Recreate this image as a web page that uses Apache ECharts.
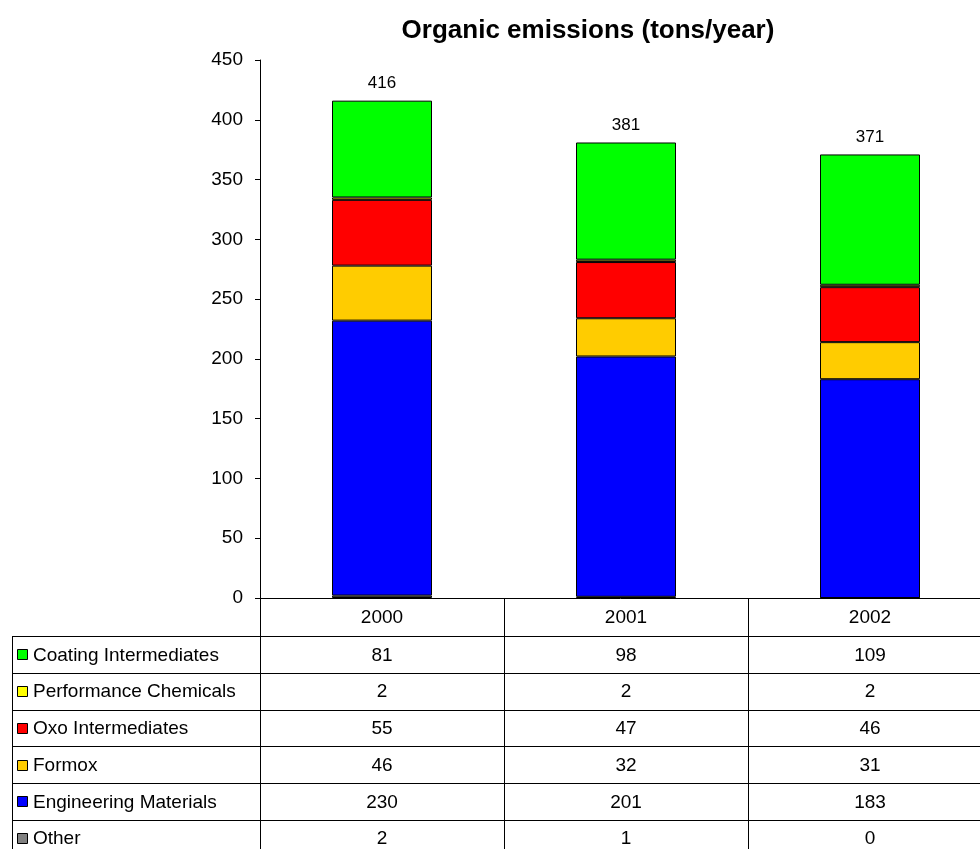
<!DOCTYPE html>
<html>
<head>
<meta charset="utf-8">
<script src="https://cdn.jsdelivr.net/npm/echarts@6/dist/echarts.min.js"></script>
<style>
  html, body { margin: 0; padding: 0; background: #fff; }
  #main { width: 980px; height: 849px; }
</style>
</head>
<body>
<div id="main"></div>
<script>
var years = ['2000', '2001', '2002'];
var other = [2, 1, 0];
var engineering = [230, 201, 183];
var formox = [46, 32, 31];
var oxo = [55, 47, 46];
var performance = [2, 2, 2];
var coating = [81, 98, 109];
var yTicks = [0, 50, 100, 150, 200, 250, 300, 350, 400, 450];

// stack order, bottom to top
var seriesList = [
    { name: 'Other', data: other, color: '#808080' },
    { name: 'Engineering Materials', data: engineering, color: '#0000ff' },
    { name: 'Formox', data: formox, color: '#ffcc00' },
    { name: 'Oxo Intermediates', data: oxo, color: '#ff0000' },
    { name: 'Performance Chemicals', data: performance, color: '#ffff00' },
    { name: 'Coating Intermediates', data: coating, color: '#00ff00' }
];
var totals = years.map(function (y, i) {
    return seriesList.reduce(function (s, it) { return s + it.data[i]; }, 0);
});

var FONT = 'Liberation Sans, Arial, sans-serif';
var plotTop = 60, plotH = 538, plotLeft = 260, catW = 244;
var plotBottom = plotTop + plotH;
var headerH = 38, rowH = 36.75, tableLeft = 12;

var dom = document.getElementById('main');
var myChart = echarts.init(dom);

var series = seriesList.map(function (s, k) {
    var top = k === seriesList.length - 1;
    return {
        name: s.name,
        type: 'bar',
        stack: 'total',
        barWidth: 100,
        data: s.data,
        itemStyle: { color: s.color, borderColor: '#000', borderWidth: 1 },
        label: top ? {
            show: true,
            position: 'top',
            distance: 9,
            color: '#000',
            fontFamily: FONT,
            fontSize: 17,
            formatter: function (p) { return totals[p.dataIndex]; }
        } : { show: false },
        animation: false
    };
});

option = {
    animation: false,
    backgroundColor: '#fff',
    title: {
        text: 'Organic emissions (tons/year)',
        left: 583,
        textAlign: 'center',
        top: 13,
        textStyle: { fontFamily: FONT, fontSize: 26, fontWeight: 'bold', color: '#000' }
    },
    grid: {
        left: plotLeft, top: plotTop, width: catW * years.length, height: plotH,
        outerBoundsMode: 'none', containLabel: false
    },
    xAxis: [{
        type: 'category',
        data: years,
        boundaryGap: true,
        axisLine: { show: true, lineStyle: { color: '#000', width: 1 } },
        axisTick: { show: true, interval: 0, length: 260, lineStyle: { color: '#000', width: 1 } },
        axisLabel: { color: '#000', fontFamily: FONT, fontSize: 19, margin: 10, interval: 0 }
    }],
    yAxis: [{
        type: 'value',
        min: yTicks[0],
        max: yTicks[yTicks.length - 1],
        interval: 50,
        splitLine: { show: false },
        axisLine: { show: true, lineStyle: { color: '#000', width: 1 } },
        axisTick: { show: true, length: 5, lineStyle: { color: '#000' } },
        axisLabel: { color: '#000', fontFamily: FONT, fontSize: 19, margin: 17 }
    }],
    series: series
};
myChart.setOption(option, true);

// data table under the plot
function TABLE() {
    var rows = seriesList.slice().reverse();
    var g = [];
    var right = 980;
    var top0 = plotBottom + headerH;
    for (var i = 0; i < rows.length; i++) {
        var y = Math.round(top0 + i * rowH) + 0.5;
        g.push({
            type: 'line', silent: true,
            shape: { x1: tableLeft, y1: y, x2: right, y2: y },
            style: { stroke: '#000', lineWidth: 1 }
        });
    }
    g.push({
        type: 'line', silent: true,
        shape: { x1: tableLeft + 0.5, y1: Math.round(top0), x2: tableLeft + 0.5, y2: 849 },
        style: { stroke: '#000', lineWidth: 1 }
    });
    rows.forEach(function (s, i) {
        var cy = top0 + i * rowH + rowH / 2;
        g.push({
            type: 'rect', silent: true,
            shape: { x: 17.5, y: Math.round(cy - 5) + 0.5, width: 10, height: 10 },
            style: { fill: s.color, stroke: '#000', lineWidth: 1 }
        });
        g.push({
            type: 'text', silent: true,
            x: 33, y: cy + 1,
            style: { text: s.name, fill: '#000', font: '19px ' + FONT, verticalAlign: 'middle' }
        });
        years.forEach(function (yr, j) {
            var cx = myChart.convertToPixel({ xAxisIndex: 0 }, yr);
            g.push({
                type: 'text', silent: true,
                x: cx, y: cy + 1,
                style: { text: String(s.data[j]), fill: '#000', font: '19px ' + FONT, align: 'center', verticalAlign: 'middle' }
            });
        });
    });
    myChart.setOption({ graphic: g });
}
TABLE();
</script>
</body>
</html>
